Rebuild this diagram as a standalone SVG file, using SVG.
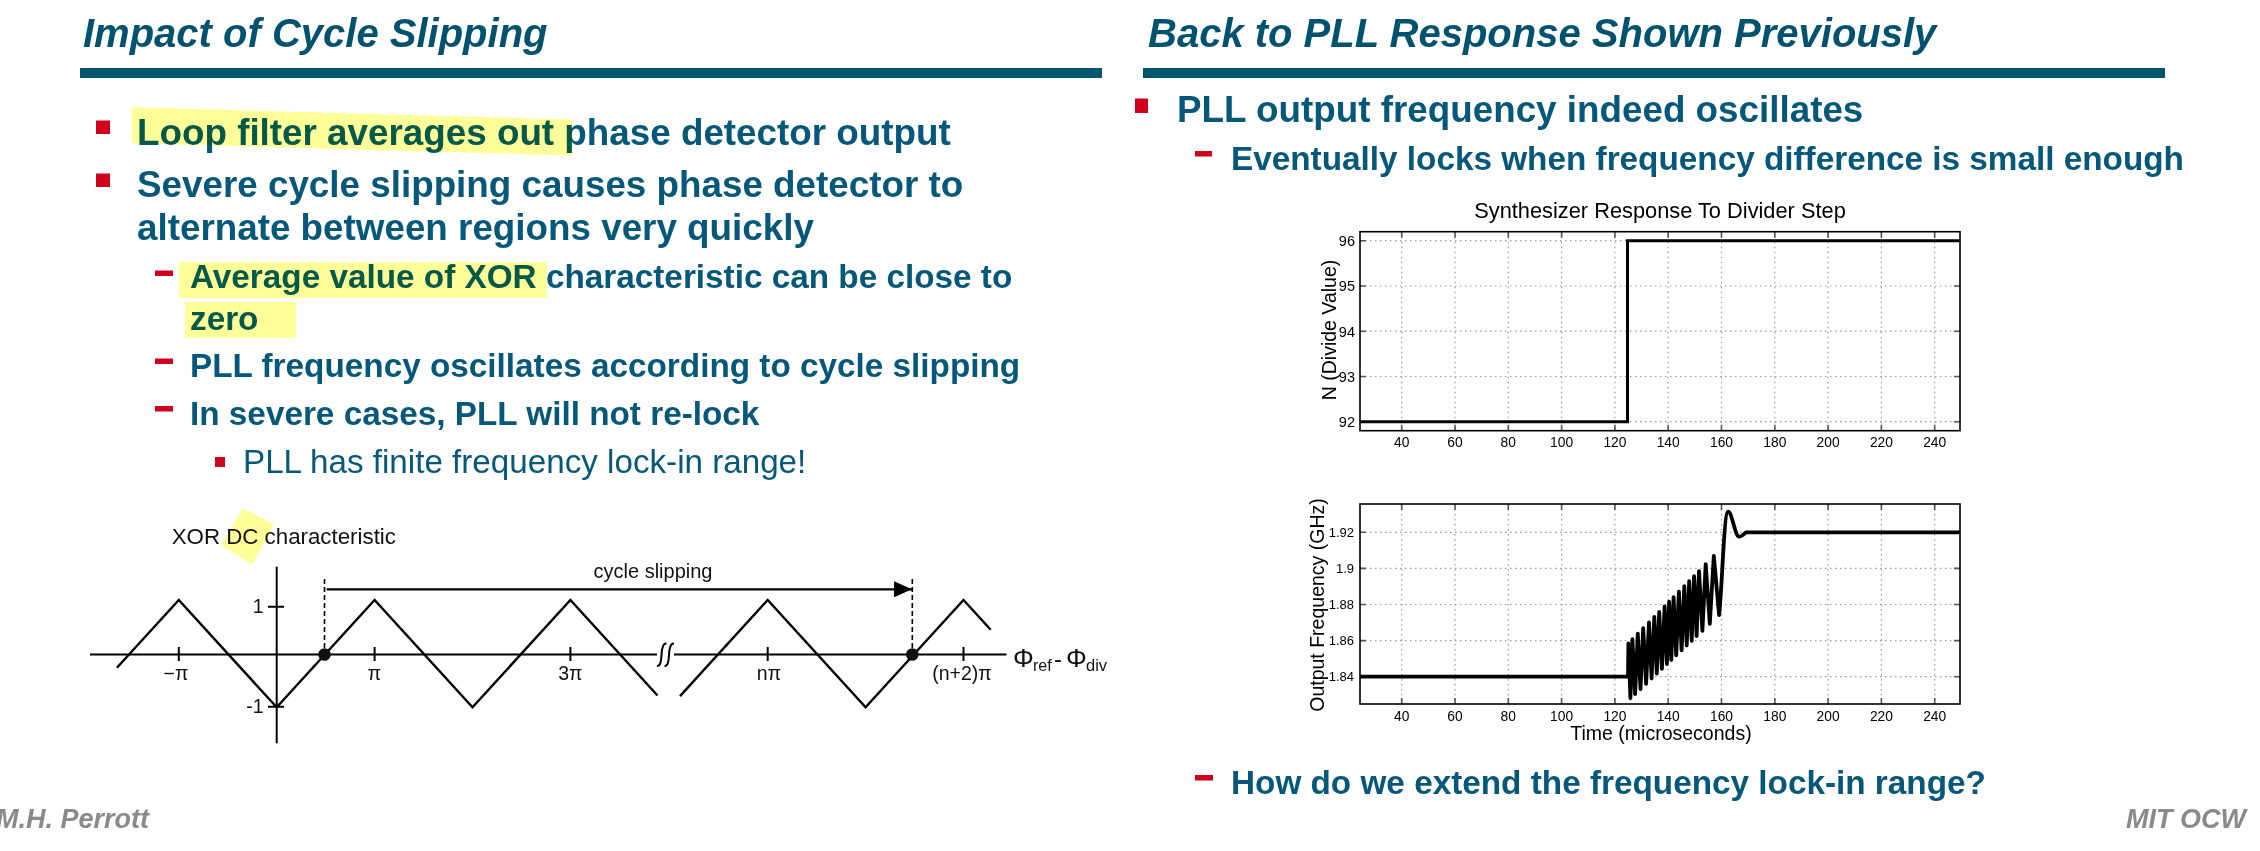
<svg xmlns="http://www.w3.org/2000/svg" width="2260" height="851" viewBox="0 0 2260 851">
<defs>
<style>
text{font-family:"Liberation Sans",Arial,sans-serif}
.title{font-style:italic;font-weight:bold;font-size:40px;fill:#00526f}
.b1{font-weight:bold;font-size:36.8px;fill:#06587a}
.b2{font-weight:bold;font-size:33.3px;fill:#06587a}
.b3{font-size:33.2px;fill:#06587a}
.bar{fill:#00566f}
.bul{fill:#d0021b}
.hl{fill:#ffff99;mix-blend-mode:multiply}
.foot{font-style:italic;font-weight:bold;font-size:27px;fill:#8a8a8a}
.ax{stroke:#000;stroke-width:2;fill:none}
.wave{stroke:#000;stroke-width:2.4;fill:none;stroke-linejoin:miter}
.dash{stroke:#000;stroke-width:1.6;stroke-dasharray:5 3;fill:none}
.xl{font-size:19.5px;fill:#111}
.grid{stroke:#9a9a9a;stroke-width:1.2;stroke-dasharray:1.5 3.5;fill:none}
.tick{stroke:#555;stroke-width:1.6;fill:none}
.box{fill:none;stroke:#000;stroke-width:1.6}
.pl{font-size:14.5px;fill:#000}
.plx{font-size:13.8px;fill:#000}
.pls{font-size:13px;fill:#000}
.plab{font-size:19.5px;fill:#000}
</style>
<marker id="ah" markerWidth="18" markerHeight="16" refX="18" refY="8" orient="auto" markerUnits="userSpaceOnUse">
<path d="M0,0 L18,8 L0,16 Z" fill="#000"/>
</marker>
</defs>
<rect width="2260" height="851" fill="#fff"/>

<g id="left-title">
<text class="title" x="83" y="46.7">Impact of Cycle Slipping</text>
<rect class="bar" x="80" y="68" width="1022" height="10"/>
</g>

<g id="left-bullets">
<rect class="bul" x="96" y="120.5" width="14" height="13.5"/>
<text class="b1" x="137" y="145">Loop filter averages out phase detector output</text>
<rect class="bul" x="96" y="173.5" width="14" height="13.5"/>
<text class="b1" x="137" y="196.7">Severe cycle slipping causes phase detector to</text>
<text class="b1" x="137" y="240">alternate between regions very quickly</text>
<rect class="bul" x="155" y="270.5" width="18" height="5.5"/>
<text class="b2" x="190" y="287.5">Average value of XOR characteristic can be close to</text>
<text class="b2" x="190" y="329.5">zero</text>
<rect class="bul" x="155" y="358.5" width="18" height="5.5"/>
<text class="b2" x="190" y="376.7">PLL frequency oscillates according to cycle slipping</text>
<rect class="bul" x="155" y="406" width="18" height="5.5"/>
<text class="b2" x="190" y="425">In severe cases, PLL will not re-lock</text>
<rect class="bul" x="215" y="457" width="10" height="10"/>
<text class="b3" x="243" y="473.3">PLL has finite frequency lock-in range!</text>
<polygon class="hl" points="131.7,107.3 572,119.5 572,155.5 131.7,143.3"/>
<rect class="hl" x="179" y="262" width="368" height="36"/>
<rect class="hl" x="185" y="302" width="111" height="36"/>
</g>

<g id="xor-plot">
<text x="171.7" y="544.3" font-size="22.3" fill="#111">XOR DC characteristic</text>
<polygon class="hl" points="243,508.3 274,524.5 252,565 221,545"/>
<path class="ax" d="M90,654.5H657M674,654.5H1006.5"/>
<path class="ax" stroke-width="1.6" d="M657,666 Q661,667 661.5,655 Q662,643 666.5,643.5 M664.5,666 Q668.5,667 669,655 Q669.5,643 674,643.5"/>
<path class="ax" d="M276.7,566.7V743.3"/>
<path class="ax" d="M268,606.7H284M268,706.7H284"/>
<text class="xl" x="263.5" y="612.5" text-anchor="end">1</text>
<text class="xl" x="263.5" y="713" text-anchor="end">-1</text>
<path class="ax" stroke-width="1.6" d="M178.8,647V661M374.6,647V661M570.4,647V661M767.7,647V661M963.5,647V661"/>
<text class="xl" x="176" y="680" text-anchor="middle">−π</text>
<text class="xl" x="374.6" y="680" text-anchor="middle">π</text>
<text class="xl" x="570.4" y="680" text-anchor="middle">3π</text>
<text class="xl" x="769" y="680" text-anchor="middle">nπ</text>
<text class="xl" x="962" y="680" text-anchor="middle">(n+2)π</text>
<polyline class="wave" points="116.9,667.8 178.8,600 276.7,707.3 374.6,600 472.5,707.3 570.4,600 657.5,695.5"/>
<polyline class="wave" points="680,696.1 767.7,600 865.6,707.3 963.5,600 990.7,629.8"/>
<path class="dash" d="M324.5,579V654M912.3,579V654"/>
<circle cx="324.5" cy="654.5" r="6.3" fill="#111"/>
<circle cx="912.3" cy="654.5" r="6.3" fill="#111"/>
<text x="653" y="578" font-size="20" fill="#111" text-anchor="middle">cycle slipping</text>
<text x="1013" y="667" font-size="26" fill="#111">Φ</text>
<text x="1033" y="671" font-size="16" fill="#111">ref</text>
<text x="1054" y="667" font-size="24" fill="#111">-</text>
<text x="1066" y="667" font-size="26" fill="#111">Φ</text>
<text x="1086" y="671" font-size="16.5" fill="#111">div</text>
</g>

<g id="connectors">
<path d="M326.7,589.3H912" stroke="#000" stroke-width="2.2" fill="none" marker-end="url(#ah)"/>
</g>

<g id="right-title">
<text class="title" x="1148" y="46.7">Back to PLL Response Shown Previously</text>
<rect class="bar" x="1143" y="68" width="1022" height="10"/>
</g>

<g id="right-bullets">
<rect class="bul" x="1135" y="98.5" width="13" height="14.5"/>
<text class="b1" x="1177" y="121.7">PLL output frequency indeed oscillates</text>
<rect class="bul" x="1195" y="151" width="17" height="5.5"/>
<text class="b2" x="1231" y="170">Eventually locks when frequency difference is small enough</text>
<rect class="bul" x="1195" y="775" width="18" height="5.5"/>
<text class="b2" x="1231" y="794">How do we extend the frequency lock-in range?</text>
</g>

<g id="plot-top">
<text x="1660" y="218" font-size="21.8" text-anchor="middle">Synthesizer Response To Divider Step</text>
<path class="grid" d="M1401.7 231.7V430.7M1455 231.7V430.7M1508.3 231.7V430.7M1561.6 231.7V430.7M1614.9 231.7V430.7M1668.2 231.7V430.7M1721.5 231.7V430.7M1774.8 231.7V430.7M1828.1 231.7V430.7M1881.4 231.7V430.7M1934.7 231.7V430.7M1360 240.7H1960M1360 286H1960M1360 331.2H1960M1360 376.5H1960M1360 421.7H1960"/>
<path class="tick" d="M1401.7 430.7v-6M1401.7 231.7v6M1455 430.7v-6M1455 231.7v6M1508.3 430.7v-6M1508.3 231.7v6M1561.6 430.7v-6M1561.6 231.7v6M1614.9 430.7v-6M1614.9 231.7v6M1668.2 430.7v-6M1668.2 231.7v6M1721.5 430.7v-6M1721.5 231.7v6M1774.8 430.7v-6M1774.8 231.7v6M1828.1 430.7v-6M1828.1 231.7v6M1881.4 430.7v-6M1881.4 231.7v6M1934.7 430.7v-6M1934.7 231.7v6M1360 240.7h6M1960 240.7h-6M1360 286h6M1960 286h-6M1360 331.2h6M1960 331.2h-6M1360 376.5h6M1960 376.5h-6M1360 421.7h6M1960 421.7h-6"/>
<rect class="box" x="1360" y="231.7" width="600" height="199"/>
<path d="M1360,421.7H1627.5V240.7H1960" fill="none" stroke="#000" stroke-width="3"/>
<g class="pl" text-anchor="end">
<text x="1355" y="246">96</text>
<text x="1355" y="291.3">95</text>
<text x="1355" y="336.5">94</text>
<text x="1355" y="381.8">93</text>
<text x="1355" y="427">92</text>
</g>
<g class="plx" text-anchor="middle">
<text x="1401.7" y="447">40</text>
<text x="1455" y="447">60</text>
<text x="1508.3" y="447">80</text>
<text x="1561.6" y="447">100</text>
<text x="1614.9" y="447">120</text>
<text x="1668.2" y="447">140</text>
<text x="1721.5" y="447">160</text>
<text x="1774.8" y="447">180</text>
<text x="1828.1" y="447">200</text>
<text x="1881.4" y="447">220</text>
<text x="1934.7" y="447">240</text>
</g>
<text class="plab" transform="translate(1336,330) rotate(-90)" text-anchor="middle">N (Divide Value)</text>
</g>

<g id="plot-bottom">
<path class="grid" d="M1401.7 504V704M1455 504V704M1508.3 504V704M1561.6 504V704M1614.9 504V704M1668.2 504V704M1721.5 504V704M1774.8 504V704M1828.1 504V704M1881.4 504V704M1934.7 504V704M1360 532.3H1960M1360 568.4H1960M1360 604.5H1960M1360 640.6H1960M1360 676.7H1960"/>
<path class="tick" d="M1401.7 704v-6M1401.7 504v6M1455 704v-6M1455 504v6M1508.3 704v-6M1508.3 504v6M1561.6 704v-6M1561.6 504v6M1614.9 704v-6M1614.9 504v6M1668.2 704v-6M1668.2 504v6M1721.5 704v-6M1721.5 504v6M1774.8 704v-6M1774.8 504v6M1828.1 704v-6M1828.1 504v6M1881.4 704v-6M1881.4 504v6M1934.7 704v-6M1934.7 504v6M1360 532.3h6M1960 532.3h-6M1360 568.4h6M1960 568.4h-6M1360 604.5h6M1960 604.5h-6M1360 640.6h6M1960 640.6h-6M1360 676.7h6M1960 676.7h-6"/>
<rect class="box" x="1360" y="504" width="600" height="200"/>
<path d="M1360,676.7H1628 L1628.4,643.3 L1630.4,698.3 L1632.4,639.2 L1635.1,694.1 L1637.8,633.7 L1640.5,689.1 L1643.2,628.2 L1646.1,683.8 L1649,622.3 L1651.6,678.5 L1654.3,616.8 L1656.8,673.7 L1659.2,611.8 L1661.9,668.9 L1664.6,606.3 L1666.9,664.2 L1669.1,601.7 L1671.3,660 L1673.6,597.1 L1676.2,655.4 L1678.9,591.7 L1681.6,650.3 L1684.3,586.2 L1686.7,645.5 L1689.2,581.1 L1691.7,640.9 L1694.1,576.1 L1696.6,636.2 L1699,571.1 L1702.4,630.8 L1705.7,564.2 L1709.8,623.8 L1713.8,556 L1719.1,615 C1722,590 1724,512 1728.1,511.7 C1732,511.5 1735,537 1739.3,536.7 Q1742,536.5 1746,532.3 H1960" fill="none" stroke="#000" stroke-width="3.8" stroke-linejoin="round"/>
<g class="pls" text-anchor="end">
<text x="1354" y="537">1.92</text>
<text x="1354" y="573.1">1.9</text>
<text x="1354" y="609.2">1.88</text>
<text x="1354" y="645.3">1.86</text>
<text x="1354" y="681.4">1.84</text>
</g>
<g class="plx" text-anchor="middle">
<text x="1401.7" y="720.7">40</text>
<text x="1455" y="720.7">60</text>
<text x="1508.3" y="720.7">80</text>
<text x="1561.6" y="720.7">100</text>
<text x="1614.9" y="720.7">120</text>
<text x="1668.2" y="720.7">140</text>
<text x="1721.5" y="720.7">160</text>
<text x="1774.8" y="720.7">180</text>
<text x="1828.1" y="720.7">200</text>
<text x="1881.4" y="720.7">220</text>
<text x="1934.7" y="720.7">240</text>
</g>
<text class="plab" x="1661" y="739.5" font-size="18.7" text-anchor="middle">Time (microseconds)</text>
<text class="plab" transform="translate(1324,605) rotate(-90)" font-size="18.5" text-anchor="middle">Output Frequency (GHz)</text>
</g>

<g id="footer">
<text class="foot" x="-4" y="828.3">M.H. Perrott</text>
<text class="foot" x="2246" y="828.3" text-anchor="end">MIT OCW</text>
</g>
</svg>
